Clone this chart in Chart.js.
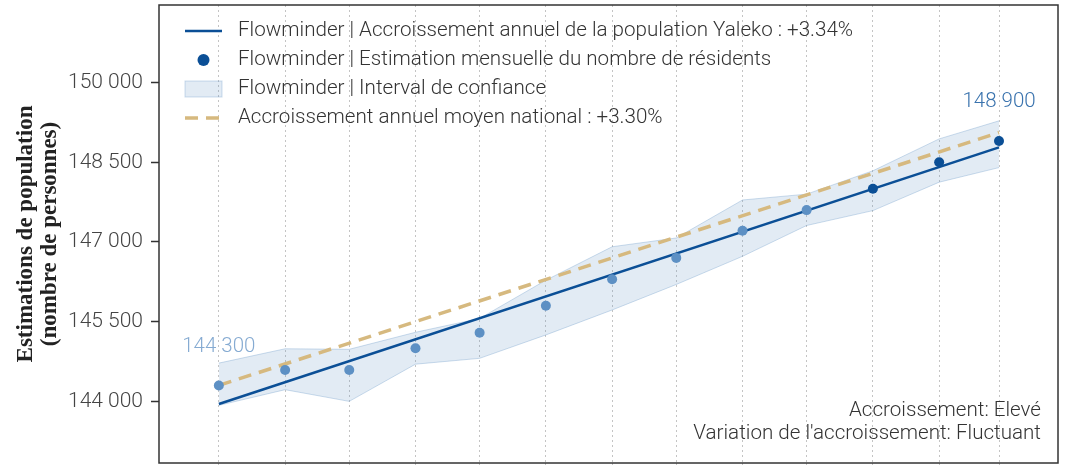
<!DOCTYPE html>
<html>
<head>
<meta charset="utf-8">
<script src="https://cdn.jsdelivr.net/npm/chart.js@4/dist/chart.umd.min.js"></script>
<style>
    html, body { margin: 0; padding: 0; background: #fff; }
    #wrap { width: 1071px; height: 468px; }
</style>
</head>
<body>
<div id="wrap"><canvas id="popChart"></canvas></div>
<script>
// monthly snapshots, one per month
const months = ['2022-03-01', '2022-04-01', '2022-05-01', '2022-06-01', '2022-07-01', '2022-08-01', '2022-09-01',
    '2022-10-01', '2022-11-01', '2022-12-01', '2023-01-01', '2023-02-01', '2023-03-01'];
const monthlyEstimates = [144300, 144590, 144590, 145000, 145290, 145800, 146300, 146700, 147210, 147600, 148000, 148500, 148900];
const ciUpper = [144720, 144990, 144980, 145300, 145560, 146280, 146910, 147075, 147790, 147900, 148340, 148940, 149280];
const ciLower = [143925, 144220, 144000, 144700, 144810, 145250, 145720, 146200, 146730, 147310, 147590, 148125, 148400];
// straight trends: value at first and last month
const trendYaleko = [143950, 148780];
const trendNational = [144300, 149060];
const yTicks = [144000, 145500, 147000, 148500, 150000];

const legendLabels = [
    'Flowminder | Accroissement annuel de la population Yaleko : +3.34%',
    'Flowminder | Estimation mensuelle du nombre de résidents',
    'Flowminder | Interval de confiance',
    'Accroissement annuel moyen national : +3.30%'
];
const growthNotes = ['Accroissement: Elevé', "Variation de l'accroissement: Fluctuant"];

const BLUE = '#0b4f96';
const TAN = '#d6b97f';
const BAND = 'rgba(110, 155, 200, 0.2)';
const BAND_EDGE = 'rgba(110, 155, 200, 0.35)';
const FONT = 'Roboto';

const day0 = Date.parse(months[0]);
const dayOf = m => (Date.parse(m) - day0) / 86400000;
const xs = months.map(dayOf);
const xLast = xs[xs.length - 1];

const fmt = v => String(Math.round(v)).replace(/\B(?=(\d{3})+(?!\d))/g, ' ');
const pts = vals => vals.map((v, i) => ({ x: xs[i], y: v }));
const ends = pair => [{ x: 0, y: pair[0] }, { x: xLast, y: pair[1] }];

const pointColors = monthlyEstimates.map((v, i) => i < 10 ? '#5d90c4' : BLUE);

// box around the plotting area
const frame = {
    id: 'frame',
    afterDraw(chart) {
        const { ctx, chartArea: a } = chart;
        ctx.save();
        ctx.strokeStyle = '#333';
        ctx.lineWidth = 1.5;
        ctx.strokeRect(a.left, a.top, a.right - a.left, a.bottom - a.top);
        ctx.restore();
    }
};

// first and last estimate written above their points
const endLabels = {
    id: 'endLabels',
    afterDatasetsDraw(chart) {
        const { ctx } = chart;
        const meta = chart.getDatasetMeta(0);
        const last = monthlyEstimates.length - 1;
        ctx.save();
        ctx.font = `300 20.5px ${FONT}`;
        ctx.textAlign = 'center';
        ctx.textBaseline = 'middle';
        [[0, '#86abd2'], [last, '#3a73ae']].forEach(([i, color]) => {
            const p = meta.data[i];
            ctx.fillStyle = color;
            ctx.fillText(fmt(monthlyEstimates[i]), p.x, p.y - 39);
        });
        ctx.restore();
    }
};

// legend inside the plot, top left
const insideLegend = {
    id: 'insideLegend',
    afterDraw(chart) {
        const { ctx, chartArea: a } = chart;
        const x0 = a.left + 26, x1 = a.left + 63, tx = a.left + 79;
        const row = i => a.top + 26 + i * 29;
        ctx.save();
        ctx.lineCap = 'butt';

        ctx.strokeStyle = BLUE;
        ctx.lineWidth = 2.5;
        ctx.beginPath(); ctx.moveTo(x0, row(0)); ctx.lineTo(x1, row(0)); ctx.stroke();

        ctx.fillStyle = BLUE;
        ctx.beginPath(); ctx.arc((x0 + x1) / 2, row(1), 6, 0, Math.PI * 2); ctx.fill();

        ctx.fillStyle = BAND;
        ctx.strokeStyle = BAND_EDGE;
        ctx.lineWidth = 1;
        ctx.fillRect(x0, row(2) - 8, x1 - x0, 16);
        ctx.strokeRect(x0, row(2) - 8, x1 - x0, 16);

        ctx.strokeStyle = TAN;
        ctx.lineWidth = 3.5;
        ctx.setLineDash([13, 8]);
        ctx.beginPath(); ctx.moveTo(x0, row(3)); ctx.lineTo(x1, row(3)); ctx.stroke();
        ctx.setLineDash([]);

        ctx.font = `300 20.6px ${FONT}`;
        ctx.fillStyle = '#333';
        ctx.textBaseline = 'middle';
        legendLabels.forEach((t, i) => ctx.fillText(t, tx, row(i)));
        ctx.restore();
    }
};

// growth classification, bottom right corner
const notes = {
    id: 'notes',
    afterDraw(chart) {
        const { ctx, chartArea: a } = chart;
        ctx.save();
        ctx.font = `300 20.6px ${FONT}`;
        ctx.fillStyle = '#333';
        ctx.textAlign = 'right';
        ctx.textBaseline = 'middle';
        growthNotes.forEach((t, i) => ctx.fillText(t, a.right - 17, a.bottom - 52 + i * 23));
        ctx.restore();
    }
};

new Chart(document.getElementById('popChart'), {
    type: 'line',
    data: {
        datasets: [
            {
                label: 'Estimation mensuelle',
                data: pts(monthlyEstimates),
                showLine: false,
                pointRadius: 5,
                pointBorderWidth: 0,
                pointBackgroundColor: pointColors
            },
            {
                label: 'National',
                data: ends(trendNational),
                borderColor: TAN,
                borderWidth: 3.5,
                borderDash: [13, 8],
                pointRadius: 0
            },
            {
                label: 'Yaleko',
                data: ends(trendYaleko),
                borderColor: BLUE,
                borderWidth: 2.5,
                pointRadius: 0
            },
            {
                label: 'IC haut',
                data: pts(ciUpper),
                borderColor: BAND_EDGE,
                borderWidth: 1,
                backgroundColor: BAND,
                fill: '+1',
                pointRadius: 0
            },
            {
                label: 'IC bas',
                data: pts(ciLower),
                borderColor: BAND_EDGE,
                borderWidth: 1,
                pointRadius: 0
            }
        ]
    },
    options: {
        responsive: true,
        maintainAspectRatio: false,
        animation: false,
        layout: { padding: { top: 5, right: 13, left: 0, bottom: -4 } },
        plugins: {
            legend: { display: false },
            tooltip: { enabled: false }
        },
        scales: {
            x: {
                type: 'linear',
                min: -28,
                max: xLast + 27.6,
                afterBuildTicks: scale => { scale.ticks = xs.map(v => ({ value: v })); },
                afterFit: scale => { scale.height = 2; scale.paddingLeft = 0; scale.paddingRight = 0; },
                ticks: { display: false },
                grid: { color: '#c4c4c4', lineWidth: 1, tickLength: 2 },
                border: { display: false, dash: [2, 3] }
            },
            y: {
                min: 142840,
                max: 151460,
                afterBuildTicks: scale => { scale.ticks = yTicks.map(v => ({ value: v })); },
                afterFit: scale => { scale.width = 159; scale.paddingTop = 0; scale.paddingBottom = 0; },
                ticks: {
                    padding: 8,
                    color: '#444',
                    font: { family: FONT, size: 21, weight: '300' },
                    callback: v => fmt(v)
                },
                grid: { drawOnChartArea: false, tickLength: 8, tickColor: '#333', tickWidth: 1.5 },
                border: { display: false },
                title: {
                    display: true,
                    text: ['Estimations de population', '(nombre de personnes)'],
                    color: '#222',
                    font: { family: 'Liberation Serif', size: 23, weight: 'bold', lineHeight: 1.05 },
                    padding: { top: 14, bottom: 0 }
                }
            }
        }
    },
    plugins: [frame, endLabels, insideLegend, notes]
});
</script>
</body>
</html>
